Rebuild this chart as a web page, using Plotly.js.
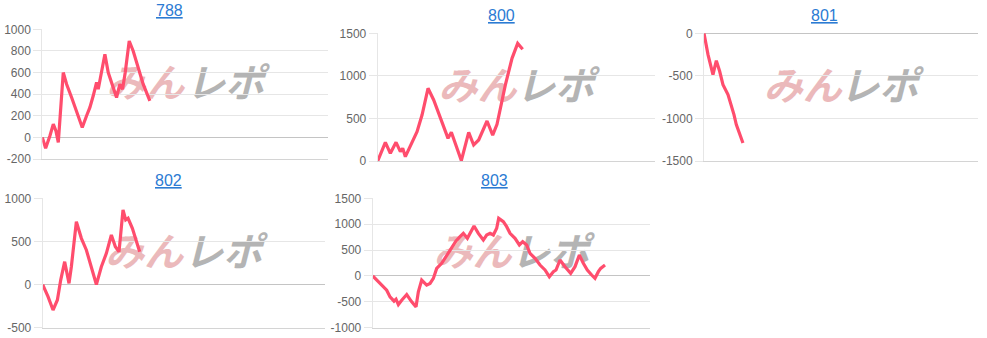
<!DOCTYPE html>
<html>
<head>
<meta charset="utf-8">
<script src="https://cdn.plot.ly/plotly-3.0.1.min.js"></script>
<style>
  html, body { margin: 0; padding: 0; background: #ffffff; }
  #chart { width: 987px; height: 338px; }
</style>
</head>
<body>
<div id="chart"></div>
<script>
// ---- data (x = games, y = difference) ----
const titles = ['788', '800', '801', '802', '803'];

const x788 = [0, 93, 214, 308, 382, 448, 587, 681, 821, 960, 1119, 1240, 1333, 1426, 1520, 1566, 1660, 1753, 1846, 1986, 2079, 2172, 2247, 2322, 2434, 2545, 2685, 2825, 3012];
const y788 = [0, -100, 15, 123, 60, -46, 600, 492, 369, 246, 92, 200, 277, 385, 508, 446, 600, 769, 600, 461, 369, 492, 446, 600, 892, 800, 646, 492, 338];

const x800 = [0, 221, 365, 529, 654, 721, 798, 942, 1135, 1279, 1452, 1615, 1760, 1904, 2029, 2125, 2260, 2413, 2625, 2769, 2913, 3010, 3154, 3317, 3442, 3683, 3875, 4038, 4183];
const y800 = [0, 219, 90, 219, 110, 149, 51, 168, 345, 540, 854, 717, 560, 423, 266, 337, 188, 5, 337, 188, 247, 345, 470, 305, 431, 893, 1206, 1382, 1312];

const x801 = [0, 117, 262, 360, 457, 554, 700, 797, 875, 943, 1040, 1137];
const y801 = [0, -251, -486, -321, -446, -603, -720, -838, -955, -1073, -1171, -1288];

const x802 = [0, 151, 293, 416, 510, 623, 746, 812, 954, 1096, 1237, 1379, 1521, 1662, 1804, 1946, 2059, 2163, 2276, 2352, 2418, 2541, 2654, 2748];
const y802 = [0, -140, -295, -179, 52, 265, 14, 207, 729, 536, 401, 191, 0, 207, 362, 575, 439, 381, 865, 749, 768, 652, 517, 381];

const x803 = [0, 115, 260, 404, 500, 615, 673, 740, 837, 981, 1125, 1250, 1317, 1413, 1557, 1654, 1750, 1846, 1990, 2135, 2279, 2404, 2519, 2615, 2731, 2827, 2923, 3048, 3192, 3288, 3385, 3481, 3577, 3635, 3769, 3865, 3962, 4106, 4231, 4327, 4442, 4538, 4683, 4827, 4971, 5096, 5212, 5288, 5404, 5548, 5712, 5837, 5962, 6077, 6192, 6317, 6413, 6510, 6577, 6702];
const y803 = [0, -80, -180, -275, -405, -488, -450, -553, -468, -359, -501, -597, -307, -81, -178, -146, -48, 146, 243, 404, 566, 675, 759, 823, 726, 855, 965, 823, 694, 791, 823, 791, 920, 1113, 1049, 952, 823, 726, 598, 662, 598, 437, 340, 211, 115, -14, 82, 115, 308, 179, 50, 179, 404, 243, 115, 18, -46, 82, 146, 211];

// y tick labels per chart
const ticks788 = [-200, 0, 200, 400, 600, 800, 1000];
const ticks800 = [0, 500, 1000, 1500];
const ticks801 = [-1500, -1000, -500, 0];
const ticks802 = [-500, 0, 500, 1000];
const ticks803 = [-1000, -500, 0, 500, 1000, 1500];
const xMax = 8000;

// ---- layout styling ----
const W = 987, H = 338;
const panels = [
  { xs: x788, ys: y788, tk: ticks788, px: [42.3, 328], py: [29.3, 159], title: [169, 10] },
  { xs: x800, ys: y800, tk: ticks800, px: [377.7, 655], py: [33.3, 161], title: [501.7, 15] },
  { xs: x801, ys: y801, tk: ticks801, px: [704, 978], py: [33.3, 161], title: [824, 15] },
  { xs: x802, ys: y802, tk: ticks802, px: [42.7, 325], py: [198.3, 327.7], title: [168, 180] },
  { xs: x803, ys: y803, tk: ticks803, px: [372.7, 650], py: [198.3, 327.7], title: [494, 180] }
];

const FONT = 'Liberation Sans, Arial, Helvetica, sans-serif';
const LINE = '#ff4d6d';
const traces = [];
const layout = {
  width: W, height: H,
  margin: { l: 0, r: 0, t: 0, b: 0 },
  paper_bgcolor: '#ffffff', plot_bgcolor: '#ffffff',
  showlegend: false,
  font: { family: FONT, size: 12, color: '#666666' },
  annotations: [],
  shapes: []
};

panels.forEach((p, i) => {
  const sfx = i === 0 ? '' : String(i + 1);
  traces.push({
    type: 'scatter', mode: 'lines',
    x: p.xs, y: p.ys,
    xaxis: 'x' + sfx, yaxis: 'y' + sfx,
    line: { color: LINE, width: 3.2, shape: 'linear' },
    hoverinfo: 'skip'
  });
  layout['xaxis' + sfx] = {
    domain: [p.px[0] / W, p.px[1] / W],
    anchor: 'y' + sfx,
    range: [0, xMax],
    showgrid: false, zeroline: false, showticklabels: false, ticks: '',
    showline: true, linecolor: '#d4d4d4', linewidth: 1,
    fixedrange: true
  };
  layout['yaxis' + sfx] = {
    domain: [1 - p.py[1] / H, 1 - p.py[0] / H],
    anchor: 'x' + sfx,
    range: [p.tk[0], p.tk[p.tk.length - 1]],
    tickmode: 'array', tickvals: p.tk, ticktext: p.tk.map(v => String(v)),
    showgrid: true, gridcolor: '#e6e6e6', gridwidth: 1,
    zeroline: true, zerolinecolor: '#c4c4c4', zerolinewidth: 1,
    showline: true, linecolor: '#e6e6e6', linewidth: 1,
    ticks: 'outside', ticklen: 8, tickcolor: '#e6e6e6', tickwidth: 1,
    tickfont: { family: FONT, size: 12, color: '#666666' },
    fixedrange: true
  };
  layout.annotations.push({
    xref: 'paper', yref: 'paper',
    x: p.title[0] / W, y: 1 - p.title[1] / H,
    xanchor: 'center', yanchor: 'middle',
    showarrow: false,
    text: titles[i],
    font: { family: FONT, size: 16, color: '#2b7bd3', lineposition: 'under' }
  });
  // watermark
  const wm = [
    { t: 'みん', cx: 0.36, col: '#ebb9bb' },
    { t: 'レポ', cx: 0.64, col: '#b4b4b4' }
  ];
  wm.forEach(w => {
    layout.shapes.push({
      type: 'rect', layer: 'below',
      xref: 'x' + sfx + ' domain', yref: 'y' + sfx + ' domain',
      x0: w.cx - 0.14, x1: w.cx + 0.14, y0: 0.44, y1: 0.69,
      line: { width: 0 }, fillcolor: 'rgba(0,0,0,0)',
      label: {
        text: w.t, textposition: 'middle center',
        font: { family: 'Noto Sans CJK JP, sans-serif', size: 39, color: w.col, weight: 'bold', style: 'italic' }
      }
    });
  });
});

Plotly.newPlot('chart', traces, layout, { staticPlot: true, displayModeBar: false });
</script>
</body>
</html>
